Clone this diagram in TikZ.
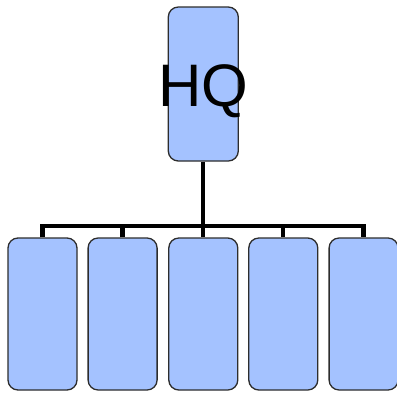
\documentclass[tikz,border=0pt]{standalone}
\usepackage{fontspec}
\setmainfont{Liberation Sans}
\definecolor{boxfill}{RGB}{164,194,255}
\definecolor{boxline}{RGB}{45,45,45}
\tikzset{
  unit/.style={draw=boxline, line width=1.3pt, fill=boxfill, rounded corners=10pt,
    rectangle, minimum width=69pt, minimum height=152pt, inner sep=0pt},
  conn/.style={draw=black, line width=4.3pt, line join=miter}
}
\begin{document}
\begin{tikzpicture}[x=1pt,y=-1pt]
  \useasboundingbox (0,0) rectangle (397,392);
  % headquarters
  \node[unit, minimum width=70pt, minimum height=154pt] (hq) at (203.3,84) {};
  \node[inner sep=0pt, anchor=base, font=\fontsize{60}{60}\selectfont] (hqtext)
    at ([yshift=-22pt]hq.center) {HQ};
  % subordinate units
  \node[unit] (b1) at (42.5,314) {};
  \node[unit] (b2) at (122.6,314) {};
  \node[unit] (b3) at (203.3,314) {};
  \node[unit] (b4) at (283.3,314) {};
  \node[unit] (b5) at (363.6,314) {};
  \coordinate (junction) at (203.3,226);
  % tree connectors
  \draw[conn] (hq.south) -- (junction);
  \draw[conn] (b1.north) -- (b1.north |- junction) -- (b5.north |- junction) -- (b5.north);
  \draw[conn] (b2.north) -- (b2.north |- junction);
  \draw[conn] (b3.north) -- (b3.north |- junction);
  \draw[conn] (b4.north) -- (b4.north |- junction);
\end{tikzpicture}
\end{document}
